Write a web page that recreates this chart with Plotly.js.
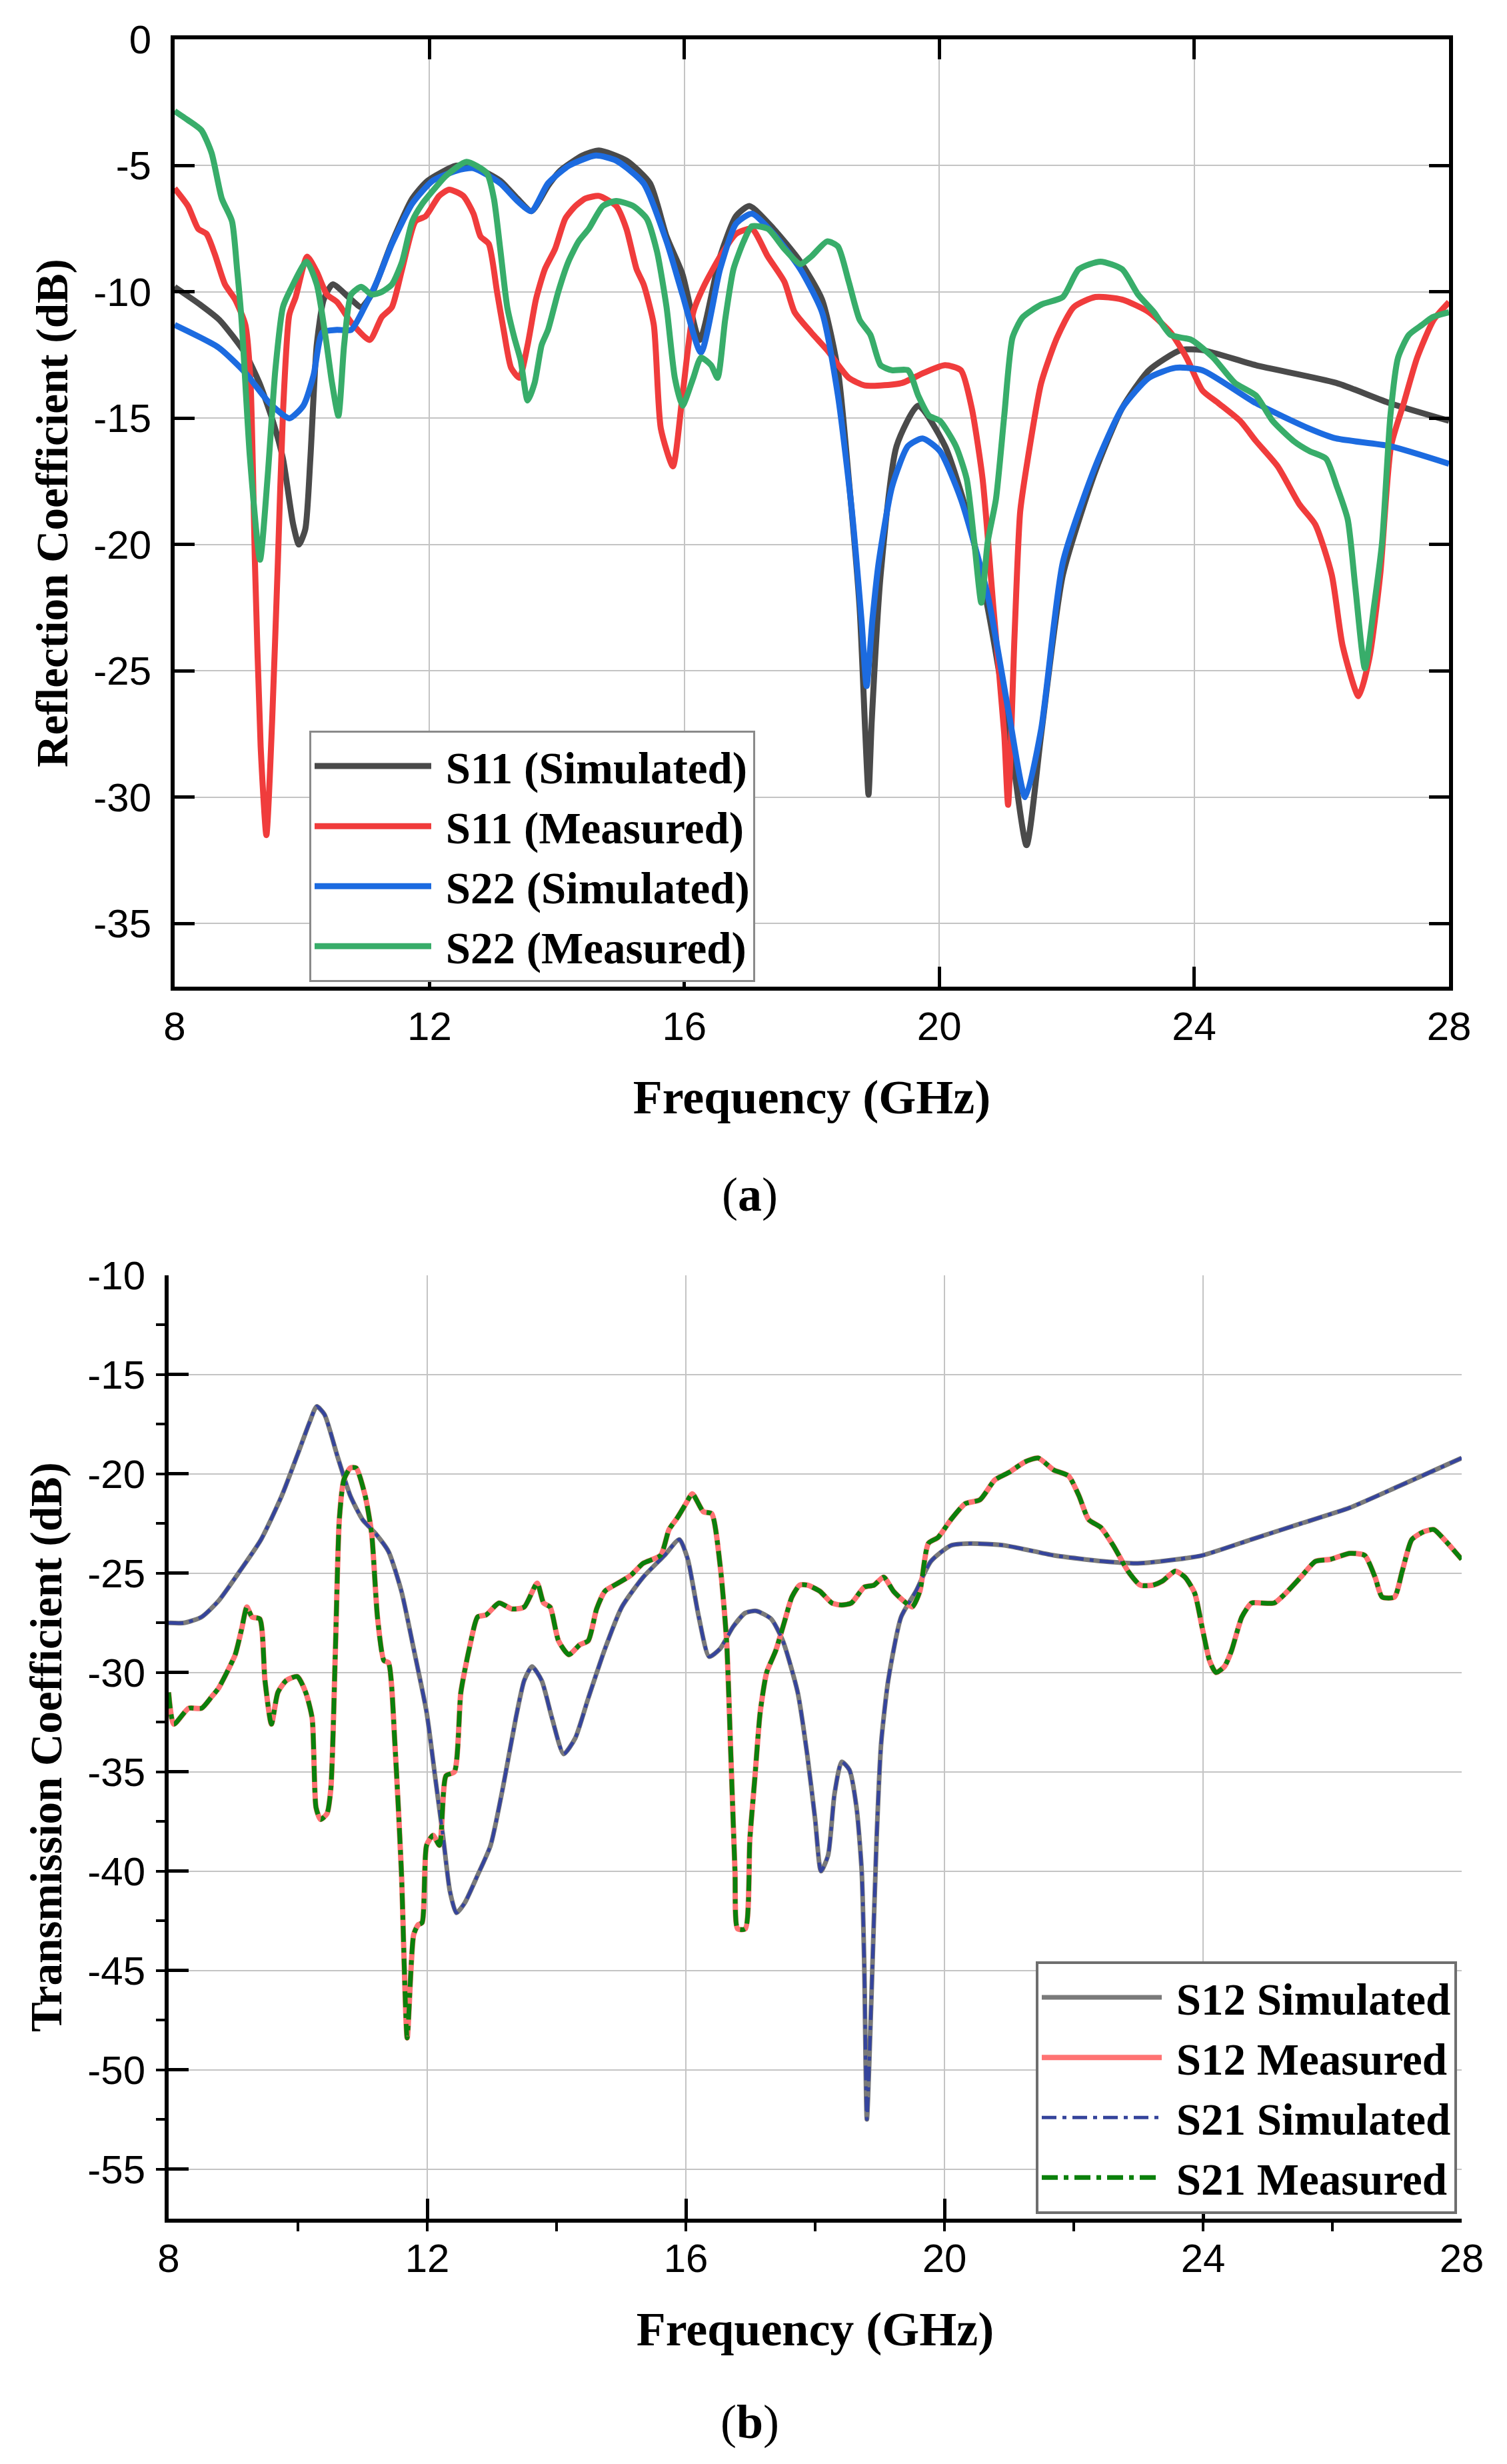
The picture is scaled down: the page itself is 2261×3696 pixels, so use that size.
<!DOCTYPE html>
<html>
<head>
<meta charset="utf-8">
<script src="https://cdn.plot.ly/plotly-3.0.1.min.js"></script>
<style>html,body{margin:0;padding:0;background:#fff;}#chart{width:2261px;height:3696px;}</style>
</head>
<body>
<div id="chart"></div>
<script>
// ---------- tick labels ----------
const freqTickVals = [8, 12, 16, 20, 24, 28];
const freqTickText = ['8', '12', '16', '20', '24', '28'];
const reflTickVals = [0, -5, -10, -15, -20, -25, -30, -35];
const reflTickText = ['0', '-5', '-10', '-15', '-20', '-25', '-30', '-35'];
const transTickVals = [-10, -15, -20, -25, -30, -35, -40, -45, -50, -55];
const transTickText = ['-10', '-15', '-20', '-25', '-30', '-35', '-40', '-45', '-50', '-55'];

// ---------- (a) reflection coefficient ----------
const s11SimF = [8.0, 8.4, 8.7, 9.1, 9.33, 9.54, 9.7, 9.86, 9.95, 10.05, 10.13, 10.23, 10.34, 10.48, 10.77, 10.93, 11.09, 11.4, 11.73, 11.97, 12.42, 12.74, 13.11, 13.38, 13.6, 13.86, 14.05, 14.4, 14.66, 15.09, 15.46, 15.72, 15.97, 16.24, 16.56, 16.81, 17.02, 17.4, 17.82, 18.16, 18.41, 18.58, 18.75, 18.84, 18.89, 18.94, 19.08, 19.33, 19.67, 20.09, 20.43, 20.76, 21.1, 21.37, 21.6, 21.94, 22.45, 22.87, 23.29, 23.79, 24.13, 24.97, 26.23, 27.07, 28.0];
const s11SimDb = [-9.8, -10.5, -11.1, -12.4, -13.6, -15.1, -16.6, -19.2, -20.0, -19.4, -16.6, -12.1, -10.3, -9.7, -10.3, -10.6, -10.1, -8.1, -6.3, -5.6, -5.0, -5.1, -5.6, -6.3, -6.8, -5.8, -5.2, -4.6, -4.4, -4.8, -5.7, -7.8, -9.3, -11.9, -8.6, -7.0, -6.6, -7.5, -8.8, -10.3, -13.1, -17.4, -22.5, -27.5, -29.9, -27.0, -21.2, -16.1, -14.5, -16.1, -18.7, -22.5, -27.5, -31.9, -27.5, -21.2, -17.1, -14.6, -13.1, -12.3, -12.3, -12.9, -13.6, -14.4, -15.1];

const s11MeasF = [8.0, 8.21, 8.37, 8.5, 8.63, 8.79, 8.95, 9.11, 9.19, 9.26, 9.35, 9.44, 9.53, 9.62, 9.7, 9.8, 9.9, 10.08, 10.23, 10.39, 10.55, 10.77, 11.06, 11.25, 11.41, 11.57, 11.78, 11.94, 12.15, 12.31, 12.53, 12.69, 12.8, 12.93, 13.06, 13.17, 13.28, 13.41, 13.54, 13.67, 13.81, 13.97, 14.13, 14.29, 14.45, 14.66, 14.93, 15.09, 15.25, 15.36, 15.52, 15.63, 15.82, 15.97, 16.14, 16.3, 16.56, 16.81, 17.06, 17.31, 17.57, 17.73, 17.99, 18.24, 18.58, 18.83, 19.08, 19.42, 19.76, 20.09, 20.34, 20.51, 20.68, 20.85, 21.02, 21.08, 21.18, 21.27, 21.39, 21.6, 21.85, 22.11, 22.45, 22.87, 23.29, 23.63, 23.88, 24.13, 24.38, 24.72, 24.97, 25.31, 25.65, 25.9, 26.16, 26.33, 26.58, 26.75, 26.92, 27.09, 27.29, 27.5, 27.76, 28.0];
const s11MeasDb = [-5.9, -6.6, -7.5, -7.7, -8.5, -9.7, -10.3, -11.3, -13.5, -20.7, -28.0, -31.5, -27.0, -20.7, -14.8, -10.9, -10.2, -8.6, -9.2, -10.1, -10.4, -11.2, -11.9, -11.0, -10.6, -9.1, -7.2, -7.0, -6.2, -5.95, -6.2, -6.9, -7.8, -8.1, -10.0, -11.6, -13.0, -13.4, -12.1, -10.3, -9.1, -8.3, -7.1, -6.6, -6.3, -6.2, -6.6, -7.5, -9.1, -9.7, -11.3, -15.4, -16.9, -14.1, -10.8, -9.8, -8.6, -7.7, -7.5, -8.6, -9.6, -10.8, -11.6, -12.3, -13.4, -13.7, -13.7, -13.6, -13.2, -12.9, -13.1, -14.6, -17.4, -22.5, -27.5, -30.3, -23.7, -18.7, -16.6, -13.6, -11.8, -10.6, -10.2, -10.3, -10.8, -11.6, -12.6, -13.9, -14.4, -15.1, -15.9, -16.9, -18.4, -19.2, -21.2, -24.0, -26.0, -24.5, -21.2, -16.1, -14.4, -12.6, -11.1, -10.4];

const s22SimF = [8.0, 8.69, 9.11, 9.49, 9.8, 10.02, 10.18, 10.32, 10.55, 10.77, 10.98, 11.19, 11.41, 11.73, 12.05, 12.42, 12.69, 13.11, 13.38, 13.6, 13.86, 14.19, 14.61, 14.93, 15.36, 15.72, 15.97, 16.26, 16.56, 16.81, 17.06, 17.4, 17.82, 18.16, 18.41, 18.63, 18.78, 18.86, 18.95, 19.05, 19.26, 19.51, 19.74, 20.01, 20.34, 20.76, 21.1, 21.35, 21.6, 21.94, 22.45, 22.87, 23.29, 23.71, 24.13, 24.97, 25.8, 26.23, 27.07, 28.0];
const s22SimDb = [-11.3, -12.2, -13.2, -14.4, -15.0, -14.5, -13.3, -11.6, -11.5, -11.5, -10.6, -9.5, -8.1, -6.5, -5.6, -5.2, -5.1, -5.7, -6.4, -6.8, -5.7, -5.0, -4.6, -4.8, -5.7, -8.0, -10.1, -12.4, -9.1, -7.3, -6.9, -7.7, -9.1, -10.8, -14.1, -18.7, -23.0, -25.6, -23.0, -20.7, -17.7, -16.1, -15.8, -16.3, -18.2, -22.0, -26.8, -30.0, -27.3, -20.7, -16.9, -14.6, -13.4, -13.0, -13.1, -14.4, -15.4, -15.8, -16.1, -16.8];

const s22MeasF = [8.0, 8.21, 8.42, 8.58, 8.74, 8.9, 8.98, 9.05, 9.18, 9.34, 9.46, 9.58, 9.7, 9.82, 10.07, 10.23, 10.37, 10.47, 10.57, 10.66, 10.77, 10.93, 11.09, 11.25, 11.41, 11.57, 11.73, 11.89, 12.05, 12.26, 12.58, 12.9, 13.01, 13.11, 13.22, 13.33, 13.43, 13.54, 13.65, 13.76, 13.86, 14.02, 14.18, 14.34, 14.5, 14.72, 14.93, 15.2, 15.41, 15.57, 15.72, 15.85, 15.97, 16.14, 16.26, 16.42, 16.52, 16.64, 16.77, 16.93, 17.06, 17.31, 17.57, 17.82, 17.99, 18.24, 18.41, 18.58, 18.75, 18.92, 19.08, 19.26, 19.51, 19.67, 19.84, 20.01, 20.26, 20.43, 20.55, 20.66, 20.76, 20.89, 21.02, 21.15, 21.31, 21.6, 21.94, 22.19, 22.53, 22.87, 23.12, 23.37, 23.63, 23.96, 24.3, 24.64, 24.97, 25.23, 25.56, 25.81, 26.07, 26.24, 26.41, 26.53, 26.68, 26.82, 26.95, 27.08, 27.2, 27.37, 27.58, 27.74, 28.0];
const s22MeasDb = [-2.84, -3.2, -3.6, -4.5, -6.3, -7.2, -9.1, -11.1, -16.5, -20.6, -17.3, -13.1, -10.6, -9.9, -8.8, -9.7, -11.8, -13.6, -14.9, -12.1, -10.1, -9.8, -10.1, -10.0, -9.7, -8.8, -7.2, -6.5, -6.0, -5.4, -4.85, -5.3, -6.3, -8.3, -10.6, -11.8, -12.7, -14.3, -13.6, -12.1, -11.5, -10.0, -8.8, -8.0, -7.5, -6.6, -6.4, -6.6, -7.1, -8.4, -10.6, -13.4, -14.5, -13.4, -12.6, -12.9, -13.4, -11.1, -9.1, -8.0, -7.4, -7.5, -8.3, -8.9, -8.6, -8.0, -8.2, -9.6, -11.1, -11.7, -12.9, -13.1, -13.1, -14.1, -14.9, -15.1, -16.1, -17.4, -19.9, -22.3, -19.9, -18.2, -14.9, -11.8, -11.0, -10.5, -10.2, -9.1, -8.8, -9.1, -10.1, -10.8, -11.7, -11.9, -12.6, -13.6, -14.1, -15.1, -15.9, -16.3, -16.6, -17.7, -19.0, -21.7, -24.9, -22.5, -19.9, -14.9, -12.6, -11.7, -11.3, -11.0, -10.8];

// ---------- (b) transmission coefficient ----------
const s12SimF = [8.0, 8.24, 8.51, 8.77, 9.1, 9.43, 9.75, 10.02, 10.18, 10.29, 10.41, 10.61, 10.81, 11.0, 11.2, 11.4, 11.6, 11.79, 11.99, 12.12, 12.25, 12.35, 12.45, 12.58, 12.78, 12.98, 13.17, 13.37, 13.5, 13.62, 13.77, 13.93, 14.11, 14.29, 14.49, 14.75, 15.01, 15.34, 15.67, 15.9, 16.03, 16.2, 16.36, 16.53, 16.73, 16.92, 17.09, 17.32, 17.5, 17.73, 17.88, 18.0, 18.09, 18.2, 18.3, 18.41, 18.53, 18.64, 18.72, 18.76, 18.8, 18.87, 18.95, 19.02, 19.13, 19.33, 19.56, 19.79, 20.1, 20.4, 20.93, 21.69, 22.46, 22.99, 23.6, 23.99, 24.75, 25.51, 26.27, 27.04, 28.0];
const s12SimDb = [-27.5, -27.5, -27.2, -26.4, -24.9, -23.3, -21.1, -18.8, -17.4, -16.6, -17.0, -19.1, -21.1, -22.3, -23.0, -23.9, -25.9, -28.8, -32.0, -35.2, -38.4, -41.0, -42.1, -41.6, -40.2, -38.7, -35.8, -32.3, -30.4, -29.7, -30.4, -32.3, -34.1, -33.3, -31.3, -28.8, -26.7, -25.2, -24.1, -23.3, -24.3, -27.2, -29.2, -28.8, -27.7, -27.0, -26.9, -27.3, -28.4, -31.0, -34.2, -37.4, -40.0, -39.2, -36.1, -34.5, -34.9, -36.8, -40.0, -44.8, -52.5, -46.4, -38.4, -33.6, -30.4, -27.2, -25.9, -24.4, -23.6, -23.5, -23.6, -24.1, -24.4, -24.5, -24.3, -24.1, -23.3, -22.5, -21.7, -20.6, -19.2];

const s12MeasF = [8.0, 8.08, 8.31, 8.51, 8.67, 8.77, 8.9, 9.03, 9.13, 9.21, 9.29, 9.41, 9.49, 9.59, 9.69, 9.82, 9.99, 10.12, 10.22, 10.28, 10.35, 10.45, 10.51, 10.58, 10.64, 10.71, 10.81, 10.9, 11.04, 11.14, 11.23, 11.33, 11.4, 11.5, 11.6, 11.69, 11.79, 11.86, 11.92, 11.99, 12.09, 12.19, 12.29, 12.42, 12.52, 12.65, 12.78, 12.91, 13.11, 13.31, 13.5, 13.7, 13.8, 13.9, 14.03, 14.19, 14.36, 14.49, 14.62, 14.75, 14.95, 15.15, 15.34, 15.61, 15.74, 15.87, 16.0, 16.1, 16.27, 16.4, 16.53, 16.63, 16.69, 16.76, 16.8, 16.92, 16.99, 17.07, 17.15, 17.25, 17.39, 17.52, 17.64, 17.76, 17.88, 18.07, 18.26, 18.41, 18.56, 18.76, 18.91, 19.06, 19.21, 19.37, 19.5, 19.62, 19.75, 19.9, 20.1, 20.32, 20.55, 20.78, 21.01, 21.24, 21.45, 21.69, 21.92, 22.08, 22.23, 22.42, 22.61, 22.84, 23.03, 23.22, 23.37, 23.57, 23.72, 23.87, 23.99, 24.1, 24.2, 24.33, 24.44, 24.6, 24.75, 24.9, 25.1, 25.28, 25.51, 25.74, 25.97, 26.27, 26.5, 26.66, 26.77, 26.96, 27.08, 27.23, 27.42, 27.57, 27.73, 27.84, 28.0];
const s12MeasDb = [-31.0, -32.6, -31.8, -31.8, -31.2, -30.8, -30.0, -29.1, -27.8, -26.7, -27.2, -27.3, -30.4, -32.6, -31.0, -30.4, -30.2, -31.0, -32.3, -36.8, -37.4, -37.1, -35.8, -28.8, -22.3, -20.3, -19.7, -19.7, -21.1, -23.0, -27.2, -29.4, -29.5, -33.6, -40.0, -48.4, -43.2, -42.7, -42.6, -38.7, -38.2, -38.7, -35.2, -35.0, -31.0, -28.8, -27.2, -27.1, -26.5, -26.8, -26.7, -25.5, -26.5, -26.7, -28.4, -29.1, -28.6, -28.4, -26.8, -25.9, -25.5, -25.1, -24.5, -24.1, -22.8, -22.2, -21.5, -21.0, -21.9, -22.0, -24.6, -28.4, -33.6, -40.0, -42.9, -42.9, -38.4, -35.2, -32.0, -30.0, -28.9, -27.5, -26.2, -25.6, -25.6, -25.9, -26.5, -26.6, -26.5, -25.7, -25.6, -25.2, -25.9, -26.4, -26.7, -25.9, -23.5, -23.2, -22.3, -21.5, -21.3, -20.3, -19.9, -19.4, -19.2, -19.8, -20.1, -21.1, -22.3, -22.7, -23.6, -24.9, -25.6, -25.6, -25.4, -24.9, -25.2, -26.0, -27.8, -29.4, -30.0, -29.7, -28.9, -27.2, -26.5, -26.5, -26.5, -26.0, -25.2, -24.4, -24.3, -24.0, -24.1, -25.2, -26.2, -26.2, -24.9, -23.3, -22.9, -22.8, -23.3, -23.7, -24.3];

// S21 curves lie exactly on top of the S12 curves in the figure
const s21SimF = s12SimF, s21SimDb = s12SimDb;
const s21MeasF = s12MeasF, s21MeasDb = s12MeasDb;

// ---------- styling ----------
const W = 2261, H = 3696;
const serif = 'Liberation Serif, Times New Roman, serif';
const sans = 'Liberation Sans, Arial, sans-serif';
const sm = 0.6;

function tr(name, xs, ys, color, width, dash, axes, legend) {
  return {
    type: 'scatter', mode: 'lines', name: '\u00a0<b>' + name + '</b>', x: xs, y: ys,
    xaxis: axes[0], yaxis: axes[1], legend: legend,
    line: {color: color, width: width, dash: dash || 'solid', shape: 'spline', smoothing: sm}
  };
}

const data = [
  tr('S11 (Simulated)', s11SimF, s11SimDb, '#4a4a4a', 9, null, ['x', 'y'], 'legend'),
  tr('S11 (Measured)', s11MeasF, s11MeasDb, '#f03c3c', 9, null, ['x', 'y'], 'legend'),
  tr('S22 (Simulated)', s22SimF, s22SimDb, '#1c6be0', 9, null, ['x', 'y'], 'legend'),
  tr('S22 (Measured)', s22MeasF, s22MeasDb, '#38ad6a', 9, null, ['x', 'y'], 'legend'),
  tr('S12 Simulated', s12SimF, s12SimDb, '#7a7a7a', 7, null, ['x2', 'y2'], 'legend2'),
  tr('S12 Measured', s12MeasF, s12MeasDb, '#ff7373', 8, null, ['x2', 'y2'], 'legend2'),
  tr('S21 Simulated', s21SimF, s21SimDb, '#35449c', 5, '22px,9px,6px,9px', ['x2', 'y2'], 'legend2'),
  tr('S21 Measured', s21MeasF, s21MeasDb, '#0b800b', 7, '24px,9px,7px,9px', ['x2', 'y2'], 'legend2')
];

const tickFont = {family: sans, size: 60, color: '#000'};
const titleFontX = {family: serif, size: 72, color: '#000'};
const titleFontY = {family: serif, size: 67, color: '#000'};
const gridC = '#c4c4c4';

const baseAx = {
  showline: true, linecolor: '#000', linewidth: 6, zeroline: false,
  ticks: 'inside', ticklen: 30, tickwidth: 5, tickcolor: '#000',
  showgrid: true, gridcolor: gridC, gridwidth: 2,
  tickfont: tickFont, tickmode: 'array'
};

const layout = {
  width: W, height: H,
  margin: {l: 0, r: 0, t: 0, b: 0},
  paper_bgcolor: '#fff', plot_bgcolor: '#fff',
  showlegend: true,
  xaxis: Object.assign({}, baseAx, {
    domain: [262 / W, 2174 / W], anchor: 'y', range: [8, 28], ticklabelstandoff: 2,
    tickvals: freqTickVals, ticktext: freqTickText, mirror: 'ticks',
    title: {text: '<b>Frequency (GHz)</b>', font: titleFontX, standoff: 50}
  }),
  yaxis: Object.assign({}, baseAx, {
    domain: [1 - 1480 / H, 1 - 59 / H], anchor: 'x', range: [-37.5, 0], ticklabelstandoff: 17,
    tickvals: reflTickVals, ticktext: reflTickText, mirror: 'ticks',
    title: {text: '<b>Reflection Coefficient (dB)</b>', font: titleFontY, standoff: 19}
  }),
  xaxis2: Object.assign({}, baseAx, {
    domain: [253 / W, 2193 / W], anchor: 'y2', range: [8, 28], ticklabelstandoff: 2,
    tickvals: freqTickVals, ticktext: freqTickText,
    minor: {tickmode: 'linear', tick0: 8, dtick: 2, ticks: 'outside', ticklen: 13, tickwidth: 4, tickcolor: '#000', showgrid: false},
    title: {text: '<b>Frequency (GHz)</b>', font: titleFontX, standoff: 50}
  }),
  yaxis2: Object.assign({}, baseAx, {
    domain: [1 - 3328 / H, 1 - 1913 / H], anchor: 'x2', range: [-57.5, -10], ticklabelstandoff: 17,
    tickvals: transTickVals, ticktext: transTickText,
    minor: {tickmode: 'linear', tick0: -10, dtick: 2.5, ticks: 'outside', ticklen: 13, tickwidth: 4, tickcolor: '#000', showgrid: false},
    title: {text: '<b>Transmission Coefficient (dB)</b>', font: titleFontY, standoff: 19}
  }),
  xaxis3: Object.assign({}, baseAx, {
    overlaying: 'x2', side: 'top', anchor: 'y2', range: [8, 28],
    tickvals: freqTickVals, showticklabels: false, showgrid: false,
    minor: {tickmode: 'linear', tick0: 8, dtick: 2, ticks: 'inside', ticklen: 13, tickwidth: 4, tickcolor: '#000', showgrid: false}
  }),
  yaxis3: Object.assign({}, baseAx, {
    overlaying: 'y2', side: 'right', anchor: 'x2', range: [-57.5, -10],
    tickvals: transTickVals, showticklabels: false, showgrid: false,
    minor: {tickmode: 'linear', tick0: -10, dtick: 2.5, ticks: 'inside', ticklen: 13, tickwidth: 4, tickcolor: '#000', showgrid: false}
  }),
  legend: {
    x: 464 / W, y: 1 - 1096 / H, xanchor: 'left', yanchor: 'top',
    bgcolor: '#fff', bordercolor: '#8a8a8a', borderwidth: 3,
    font: {family: serif, size: 67, color: '#000'}, itemwidth: 175, tracegroupgap: 0
  },
  legend2: {
    x: 1554 / W, y: 1 - 2942 / H, xanchor: 'left', yanchor: 'top',
    bgcolor: '#fff', bordercolor: '#6e6e6e', borderwidth: 4,
    font: {family: serif, size: 67, color: '#000'}, itemwidth: 180, tracegroupgap: 0
  },
  annotations: [
    {text: '(<b>a</b>)', xref: 'paper', yref: 'paper', x: 1125 / W, y: 1 - 1792 / H, showarrow: false,
     font: {family: serif, size: 72, color: '#000'}, xanchor: 'center', yanchor: 'middle'},
    {text: '(<b>b</b>)', xref: 'paper', yref: 'paper', x: 1125 / W, y: 1 - 3633 / H, showarrow: false,
     font: {family: serif, size: 72, color: '#000'}, xanchor: 'center', yanchor: 'middle'}
  ]
};

Plotly.newPlot('chart', data, layout, {displayModeBar: false, staticPlot: true});
</script>
</body>
</html>
